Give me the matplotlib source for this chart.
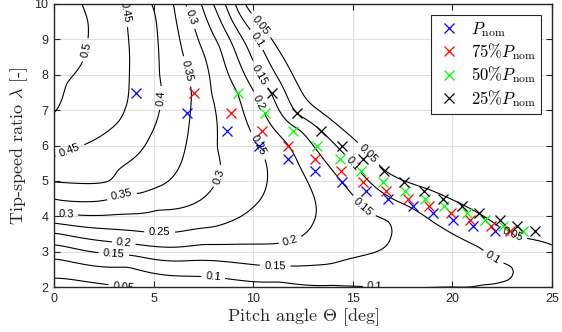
import numpy as np
import matplotlib
matplotlib.use("Agg")
import matplotlib.pyplot as plt

# ---- contour traces (pitch angle [deg], tip-speed ratio) ----
levels = [0.05, 0.10, 0.15, 0.20, 0.25, 0.30, 0.35, 0.40, 0.45, 0.50]

th_005 = [0, 2.0, 3.5, 9.6, 11.6, 14.4, 15.5, 16.6, 18.9, 23.0, 25.0]
la_005 = [2.25, 2.12, 2.0, 10.0, 8.4, 6.5, 5.95, 5.3, 4.74, 3.47, 3.19]

th_010 = [0, 3.7, 8.0, 11.3, 14.0, 16.2, 18.5, 20.0, 21.5, 22.5, 22.95, 23.05, 23.0, 22.7, 22.0, 21.4, 19.0, 17.1, 15.0, 12.2, 10.2, 9.1]
la_010 = [2.79, 2.56, 2.28, 2.14, 2.05, 2.0, 1.98, 2.0, 2.06, 2.15, 2.28, 2.42, 2.56, 2.65, 2.85, 3.1, 3.85, 4.46, 5.5, 6.9, 9.0, 10.0]

th_015 = [0, 3.0, 7.0, 10.7, 12.0, 14.5, 16.4, 16.9, 16.8, 16.3, 15.5, 15.0, 12.35, 10.9, 10.3, 8.6]
la_015 = [3.19, 2.93, 2.75, 2.6, 2.59, 2.75, 3.05, 3.41, 3.85, 3.98, 4.25, 4.6, 6.43, 7.48, 8.0, 10.0]

th_020 = [0, 3.5, 7.5, 11.35, 12.35, 13.0, 13.1, 12.3, 10.4, 9.2, 8.0]
la_020 = [3.52, 3.24, 3.2, 3.24, 3.41, 3.8, 4.46, 5.45, 7.1, 8.5, 10.0]

th_025 = [0, 2.5, 4.7, 6.1, 8.0, 10.0, 10.6, 10.6, 10.3, 9.2, 8.3, 7.4]
la_025 = [3.81, 3.65, 3.55, 3.55, 3.7, 4.26, 4.74, 5.6, 5.95, 7.5, 8.8, 10.0]

th_030 = [0, 1.3, 5.2, 8.0, 8.35, 8.2, 8.1, 7.9, 7.3, 6.6]
la_030 = [4.05, 4.03, 4.17, 4.83, 5.2, 5.95, 7.0, 7.5, 8.9, 10.0]

th_035 = [0, 3.4, 4.3, 5.5, 6.2, 6.7, 6.9, 6.7, 6.0]
la_035 = [4.49, 4.6, 4.65, 4.9, 5.3, 6.24, 7.5, 8.1, 10.0]

th_040 = [0, 2.8, 3.2, 4.8, 5.3, 5.4, 5.3, 4.9]
la_040 = [4.97, 5.0, 5.3, 6.24, 7.0, 7.34, 8.0, 10.0]

th_045 = [0, 0.8, 1.7, 3.3, 3.7, 3.8, 3.7, 3.5]
la_045 = [5.7, 5.87, 6.07, 6.72, 7.28, 8.41, 9.26, 10.0]

th_050 = [0, 0.64, 1.4, 1.7, 1.7, 1.4]
la_050 = [6.92, 7.76, 8.33, 8.98, 9.5, 10.0]

# estimated values between contours (peak near zero pitch, low-lambda band, right edge)
th_mid = [0, 0, 14.0, 18.0, 21.0, 24.5, 25.0, 24.5]
la_mid = [8.0, 9.0, 2.3, 2.4, 2.5, 2.4, 2.1, 2.85]
cp_mid = [0.52, 0.53, 0.125, 0.12, 0.11, 0.08, 0.08, 0.07]

# ---- operating points ----
lam_op = [7.47, 6.92, 6.41, 5.98, 5.62, 5.28, 4.97, 4.71, 4.49, 4.29, 4.09, 3.89, 3.72, 3.58]
th_p100 = [4.12, 6.68, 8.68, 10.29, 11.75, 13.10, 14.46, 15.66, 16.77, 18.02, 19.03, 20.03, 21.04, 22.14]
th_p75 = [7.03, 8.89, 10.44, 11.75, 13.10, 14.41, 15.51, 16.67, 17.77, 18.83, 19.93, 20.88, 21.94, 22.89]
th_p50 = [9.24, 10.59, 12.0, 13.20, 14.36, 15.41, 16.52, 17.62, 18.62, 19.58, 20.73, 21.64, 22.54, 23.54]
th_p25 = [10.94, 12.2, 13.4, 14.46, 15.51, 16.57, 17.57, 18.57, 19.53, 20.48, 21.34, 22.39, 23.24, 24.15]

# ---- build a smooth Cp surface through the traced contour points (thin-plate spline) ----
traces = [(th_005, la_005), (th_010, la_010), (th_015, la_015), (th_020, la_020), (th_025, la_025),
          (th_030, la_030), (th_035, la_035), (th_040, la_040), (th_045, la_045), (th_050, la_050)]
T_pts, L_pts, Z_pts = [], [], []
for lev, (tt, ll) in zip(levels, traces):
    T_pts += tt; L_pts += ll; Z_pts += [lev] * len(tt)
T_pts += th_mid; L_pts += la_mid; Z_pts += cp_mid
T_pts = np.array(T_pts, float); L_pts = np.array(L_pts, float); Z_pts = np.array(Z_pts, float)

sx, sy = 5.0, 2.85
Xp = np.column_stack([T_pts / sx, L_pts / sy])

def tps_kernel(A, B):
    d2 = ((A[:, None, :] - B[None, :, :]) ** 2).sum(-1)
    with np.errstate(divide='ignore', invalid='ignore'):
        k = 0.5 * d2 * np.log(d2)
    k[d2 == 0] = 0.0
    return k

n = len(Z_pts)
K = tps_kernel(Xp, Xp) + 2e-3 * np.eye(n)
Pm = np.column_stack([np.ones(n), Xp])
M = np.zeros((n + 3, n + 3))
M[:n, :n] = K; M[:n, n:] = Pm; M[n:, :n] = Pm.T
rhs = np.concatenate([Z_pts, np.zeros(3)])
coef = np.linalg.solve(M, rhs)
w, v = coef[:n], coef[n:]

tg = np.linspace(0, 25, 220)
lg = np.linspace(1.9, 10, 210)
TG, LG = np.meshgrid(tg, lg)
Xg = np.column_stack([TG.ravel() / sx, LG.ravel() / sy])
ZG = (tps_kernel(Xg, Xp) @ w + v[0] + Xg @ v[1:]).reshape(TG.shape)

# ---- plot ----
plt.rcParams['mathtext.fontset'] = 'cm'
tick_font = 'Liberation Sans'
dark = (0.15, 0.15, 0.15)

fig = plt.figure(figsize=(5.62, 3.32), dpi=100)
ax = fig.add_axes([54 / 562, 45 / 332, 498 / 562, 283 / 332])

cs = ax.contour(TG, LG, ZG, levels=levels, colors='k', linewidths=0.8)
label_pos = [(1.67, 8.69), (0.8, 5.87), (3.47, 9.77), (5.4, 7.34), (6.7, 8.1), (3.4, 4.6),
             (6.8, 9.6), (8.4, 5.1), (0.6, 4.03), (10.1, 5.95), (5.3, 3.55), (10.2, 7.2),
             (3.5, 3.24), (11.85, 3.33), (10.3, 8.0), (15.5, 4.25), (11.1, 2.59), (3.0, 2.93),
             (10.2, 9.0), (15.0, 5.5), (22.0, 2.8), (16.1, 2.02), (8.0, 2.28), (10.3, 9.35),
             (15.6, 5.67), (23.0, 3.47), (3.5, 2.05)]
lbls = ax.clabel(cs, fmt='%g', fontsize=8, manual=label_pos, inline=True, inline_spacing=3)
for t in lbls:
    t.set_fontfamily(tick_font)

mk = dict(marker='x', linestyle='none', markersize=6.5, markeredgewidth=0.9)
ax.plot(th_p100, lam_op, color='#0000ff', label=r'$P_\mathrm{nom}$', **mk)
ax.plot(th_p75, lam_op, color='#ff0000', label=r'$75\%P_\mathrm{nom}$', **mk)
ax.plot(th_p50, lam_op, color='#00ff00', label=r'$50\%P_\mathrm{nom}$', **mk)
ax.plot(th_p25, lam_op, color='#000000', label=r'$25\%P_\mathrm{nom}$', **mk)

ax.set_xlim(0, 25)
ax.set_ylim(2, 10)
ax.set_xticks([0, 5, 10, 15, 20, 25])
ax.set_yticks(range(2, 11))
ax.grid(True, color=(0.88, 0.88, 0.88), linewidth=0.8)
ax.set_axisbelow(True)
ax.tick_params(direction='in', top=True, right=True, length=4, width=0.8, colors=dark,
               labelsize=9, pad=4)
for lab in ax.get_xticklabels() + ax.get_yticklabels():
    lab.set_fontfamily(tick_font)
for s in ax.spines.values():
    s.set_color(dark)
    s.set_linewidth(1.0)

ax.set_xlabel(r'Pitch angle $\Theta$ [deg]', family='cmr10', fontsize=13, color=dark, labelpad=1)
ax.set_ylabel(r'Tip-speed ratio $\lambda$ [-]', family='cmr10', fontsize=13, color=dark, labelpad=3)

leg = ax.legend(loc='upper right', fontsize=12, frameon=True, fancybox=False, framealpha=1,
                edgecolor=dark, borderaxespad=0.65, handletextpad=0.6, labelspacing=0.15,
                borderpad=0.3, handlelength=1.5)
leg.get_frame().set_linewidth(0.8)

fig.savefig('out.png', dpi=100)
